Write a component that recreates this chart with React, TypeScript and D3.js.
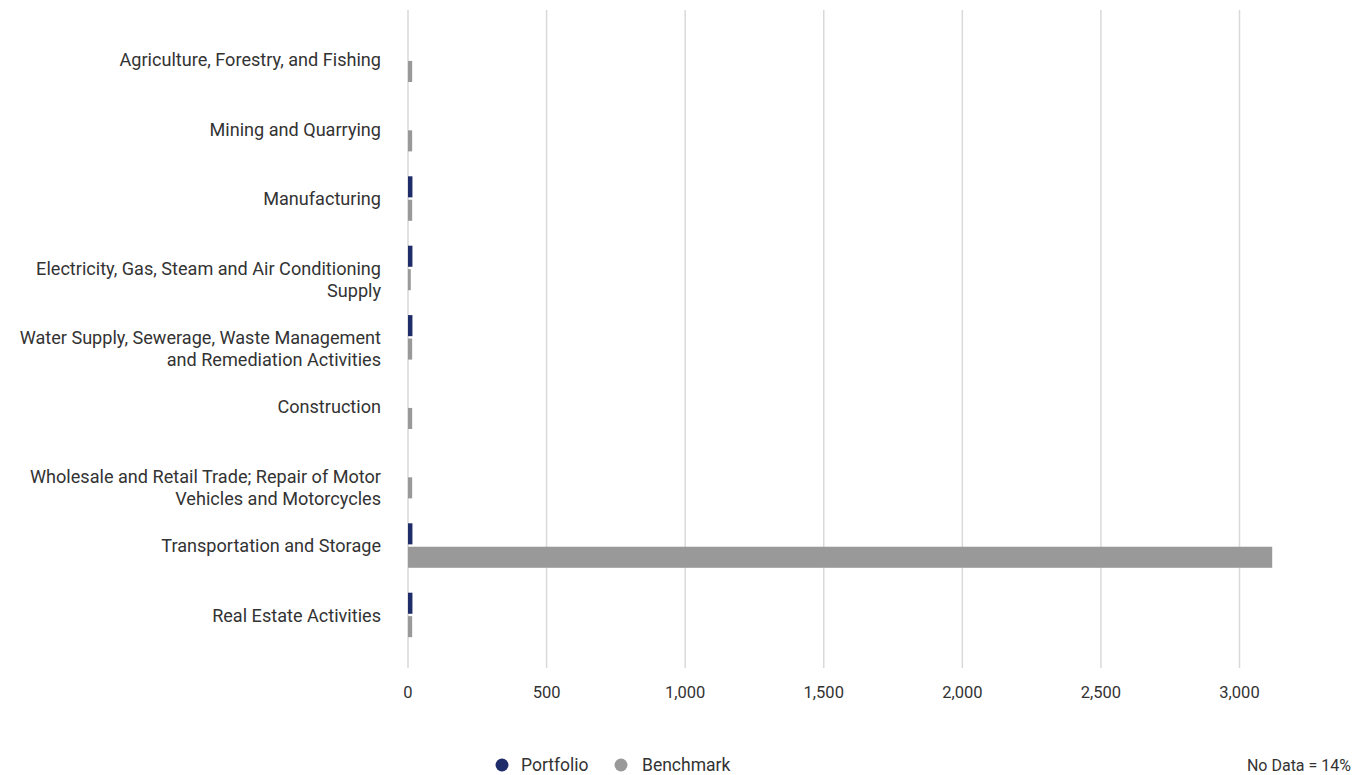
import React from "react";
import * as d3 from "d3";

const categories: string[][] = [
  ["Agriculture, Forestry, and Fishing"],
  ["Mining and Quarrying"],
  ["Manufacturing"],
  ["Electricity, Gas, Steam and Air Conditioning", "Supply"],
  ["Water Supply, Sewerage, Waste Management", "and Remediation Activities"],
  ["Construction"],
  ["Wholesale and Retail Trade; Repair of Motor", "Vehicles and Motorcycles"],
  ["Transportation and Storage"],
  ["Real Estate Activities"],
];
const portfolio = [0, 0, 16, 16, 16, 0, 0, 16, 16];
const benchmark = [15, 15, 15, 10, 15, 15, 15, 3118, 15];
const xTicks = [0, 500, 1000, 1500, 2000, 2500, 3000];
const seriesNames = ["Portfolio", "Benchmark"];
const seriesColors = ["#1f2c6a", "#999999"];
const noDataNote = "No Data = 14%";

const W = 1362;
const H = 775;
const FONT = "Roboto, 'Noto Sans', sans-serif";

export default function App() {
  const x = d3.scaleLinear().domain([0, 3000]).range([408, 1239.5]);
  const idx = categories.map((_, i) => String(i));
  const y = d3.scaleBand().domain(idx).range([25.3, 649.9]);
  const inner = d3
    .scaleBand()
    .domain(seriesNames)
    .range([-22.5, 22])
    .paddingInner(0.1);
  const fmt = d3.format(",");
  const gridTop = 10;
  const gridBottom = 668;

  return (
    <svg
      width={W}
      height={H}
      style={{ position: "absolute", left: 0, top: 0, background: "#fff" }}
      fontFamily={FONT}
    >
      {xTicks.map((t) => (
        <g key={t}>
          <line
            x1={x(t)}
            x2={x(t)}
            y1={gridTop}
            y2={gridBottom}
            stroke="#d9d9d9"
            strokeWidth={1.5}
          />
          <text
            x={x(t)}
            y={698}
            textAnchor="middle"
            fontSize={16.5}
            fill="#333"
          >
            {fmt(t)}
          </text>
        </g>
      ))}
      {categories.map((lines, i) => {
        const c = (y(String(i)) as number) + y.bandwidth() / 2;
        return (
          <g key={i}>
            {lines.map((ln, j) => (
              <text
                key={j}
                x={381}
                y={c + j * 22.5}
                dy="0.35em"
                textAnchor="end"
                fontSize={18.1}
                fill="#333"
              >
                {ln}
              </text>
            ))}
            {[portfolio[i], benchmark[i]].map((v, s) =>
              v > 0 ? (
                <rect
                  key={s}
                  x={x(0)}
                  y={c + (inner(seriesNames[s]) as number)}
                  width={x(v) - x(0)}
                  height={inner.bandwidth()}
                  fill={seriesColors[s]}
                />
              ) : null
            )}
          </g>
        );
      })}
      <g>
        <circle cx={502} cy={765} r={6.5} fill={seriesColors[0]} />
        <text x={521} y={765} dy="0.35em" fontSize={17.5} fill="#333">
          {seriesNames[0]}
        </text>
        <circle cx={621} cy={765} r={6.5} fill={seriesColors[1]} />
        <text x={642} y={765} dy="0.35em" fontSize={17.5} fill="#333">
          {seriesNames[1]}
        </text>
      </g>
      <text
        x={1351}
        y={765}
        dy="0.35em"
        textAnchor="end"
        fontSize={16}
        fill="#333"
      >
        {noDataNote}
      </text>
    </svg>
  );
}
